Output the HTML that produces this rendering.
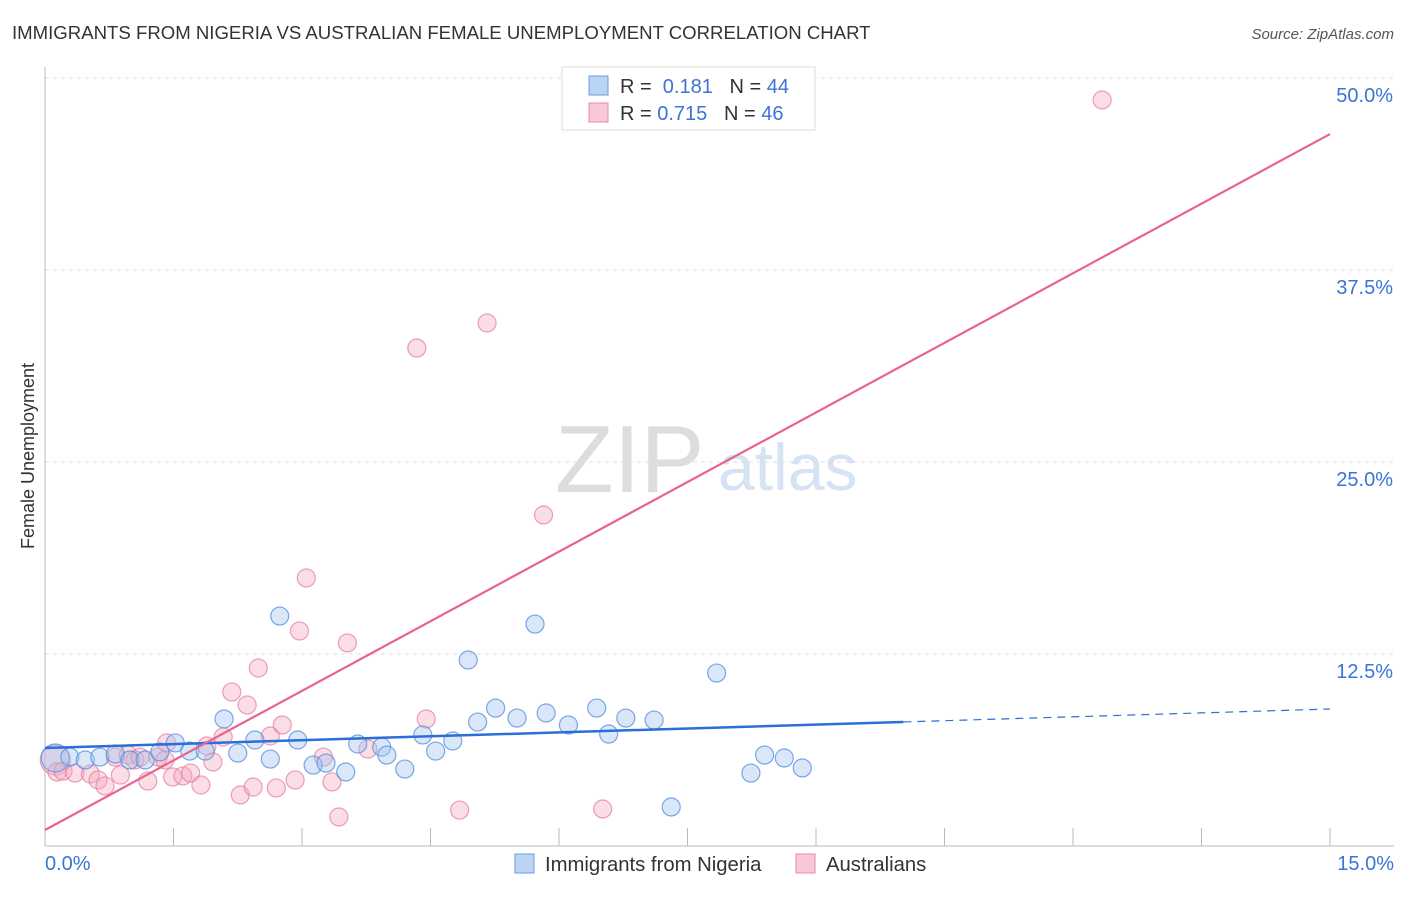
<!DOCTYPE html>
<html><head><meta charset="utf-8"><style>
body{margin:0;background:#fff;font-family:"Liberation Sans",sans-serif}
svg text{font-family:"Liberation Sans",sans-serif}
</style></head><body>
<svg id="c" width="1406" height="892">
<text x="12" y="39" font-size="18.6" fill="#333">IMMIGRANTS FROM NIGERIA VS AUSTRALIAN FEMALE UNEMPLOYMENT CORRELATION CHART</text>
<text x="1394" y="39" font-size="15" fill="#555" font-style="italic" text-anchor="end">Source: ZipAtlas.com</text>
<text x="34" y="456" font-size="18" fill="#333" text-anchor="middle" transform="rotate(-90 34 456)">Female Unemployment</text>
<text x="555" y="492" font-size="96" fill="#ddd" font-family="Liberation Serif">ZIP</text>
<text x="718" y="490" font-size="66" fill="#d5e3f3">atlas</text>
<g id="grid"></g><g id="pts"></g><g id="lines"></g>
<g>
<rect x="562" y="67" width="253" height="63" fill="#fff" stroke="#ddd"/>
<rect x="589" y="76" width="19" height="19" fill="#bcd4f4" stroke="#6a9be0"/>
<rect x="589" y="103" width="19" height="19" fill="#f8c8d6" stroke="#e88aa6"/>
<text x="620" y="93" font-size="20" fill="#333">R = <tspan fill="#3a74d4">&#160;0.181</tspan>&#160;&#160;&#160;N = <tspan fill="#3a74d4">44</tspan></text>
<text x="620" y="120" font-size="20" fill="#333">R = <tspan fill="#3a74d4">0.715</tspan>&#160;&#160;&#160;N = <tspan fill="#3a74d4">46</tspan></text>
</g>
<g>
<rect x="515" y="854" width="19" height="19" fill="#bcd4f4" stroke="#6a9be0"/>
<text x="545" y="871" font-size="20.3" fill="#333">Immigrants from Nigeria</text>
<rect x="796" y="854" width="19" height="19" fill="#f8c8d6" stroke="#e88aa6"/>
<text x="826" y="871" font-size="20.3" fill="#333">Australians</text>
</g>
</svg>
<script>
const blueX=[0.12,0.29,0.47,0.64,0.82,0.99,1.17,1.34,1.52,1.69,1.87,2.09,2.25,2.45,2.63,2.74,2.95,3.13,3.28,3.51,3.65,3.93,3.99,4.20,4.41,4.56,4.76,4.94,5.05,5.26,5.51,5.72,5.85,6.11,6.44,6.58,6.78,7.11,7.31,7.84,8.24,8.40,8.63,8.84];
const blueY=[5.73,5.79,5.60,5.79,5.99,5.60,5.60,6.12,6.71,6.18,6.18,8.27,6.05,6.90,5.66,14.97,6.90,5.27,5.40,4.82,6.64,6.44,5.92,5.01,7.23,6.18,6.84,12.11,8.07,8.98,8.33,14.45,8.66,7.88,8.98,7.29,8.33,8.20,2.54,11.26,4.75,5.92,5.73,5.08];
const pinkX=[0.12,0.14,0.21,0.35,0.53,0.62,0.70,0.82,0.88,0.97,1.05,1.11,1.20,1.32,1.40,1.42,1.49,1.61,1.70,1.82,1.89,1.96,2.08,2.18,2.28,2.36,2.43,2.49,2.63,2.70,2.77,2.92,2.97,3.05,3.25,3.35,3.43,3.53,3.77,4.34,4.45,4.84,5.16,5.82,6.51,12.34];
const pinkY=[5.60,4.82,4.88,4.75,4.69,4.30,3.91,5.79,4.62,5.92,5.60,5.79,4.23,5.79,5.60,6.71,4.49,4.56,4.75,3.97,6.51,5.47,7.10,10.03,3.32,9.18,3.84,11.59,7.16,3.78,7.88,4.30,14.00,17.45,5.79,4.17,1.89,13.22,6.31,32.42,8.27,2.34,34.05,21.55,2.41,48.57];
const yTicks=[12.5,25.0,37.5,50.0];
const xTickLabels=["0.0%","15.0%"];
const blueLine=[6.38,8.92], pinkLine=[1.04,46.35];
const X=v=>45+v/15*1285, Y=v=>846-v/12.5*192;
const NS="http://www.w3.org/2000/svg";
function mk(t,a,p){const e=document.createElementNS(NS,t);for(const k in a)e.setAttribute(k,a[k]);p.appendChild(e);return e;}
const g=document.getElementById('grid');
yTicks.forEach(v=>{
 const l=mk('line',{x1:45,x2:1394,y1:Y(v),y2:Y(v),stroke:'#ddd','stroke-dasharray':'4,4'},g);
 
 
 const t=mk('text',{x:1393,y:Y(v)+24,'font-size':20,fill:'#3a74d4','text-anchor':'end'},g);t.textContent=v.toFixed(1)+'%';
 
 
});
mk('line',{x1:45,x2:45,y1:67,y2:846,stroke:'#bbb'},g);
mk('line',{x1:45,x2:1394,y1:846,y2:846,stroke:'#bbb'},g);
for(let i=0;i<=10;i++){const l=mk('line',{x1:X(i*1.5),x2:X(i*1.5),y1:828,y2:846,stroke:'#bbb'},g);
 
 }
const t0=mk('text',{x:45,y:870,'font-size':20,fill:'#3a74d4'},g);t0.textContent=xTickLabels[0];


const t1=mk('text',{x:1394,y:870,'font-size':20,fill:'#3a74d4','text-anchor':'end'},g);t1.textContent=xTickLabels[1];


const p=document.getElementById('pts');
pinkX.forEach((x,i)=>{const c=mk('circle',{cx:X(x),cy:Y(pinkY[i]),r:i==0?15:9,fill:'rgba(244,170,192,0.4)',stroke:'rgba(228,120,155,0.7)','stroke-width':1.2},p);
 
 });
blueX.forEach((x,i)=>{const c=mk('circle',{cx:X(x),cy:Y(blueY[i]),r:i==0?14:9,fill:'rgba(160,195,240,0.4)',stroke:'rgba(80,140,220,0.75)','stroke-width':1.2},p);
 
 });
const L=document.getElementById('lines');
const ys=x=>blueLine[0]+(blueLine[1]-blueLine[0])*x/15;
const b1=mk('line',{x1:X(0),y1:Y(ys(0)),x2:X(10.02),y2:Y(ys(10.02)),stroke:'#2a6fd6','stroke-width':2.5},L);


const b2=mk('line',{x1:X(10.02),y1:Y(ys(10.02)),x2:X(15),y2:Y(ys(15)),stroke:'#2a6fd6','stroke-width':1.2,'stroke-dasharray':'8,6'},L);


const pl=mk('line',{x1:X(0),y1:Y(pinkLine[0]),x2:X(15),y2:Y(pinkLine[1]),stroke:'#e8638f','stroke-width':2.2},L);


</script>
</body></html>
